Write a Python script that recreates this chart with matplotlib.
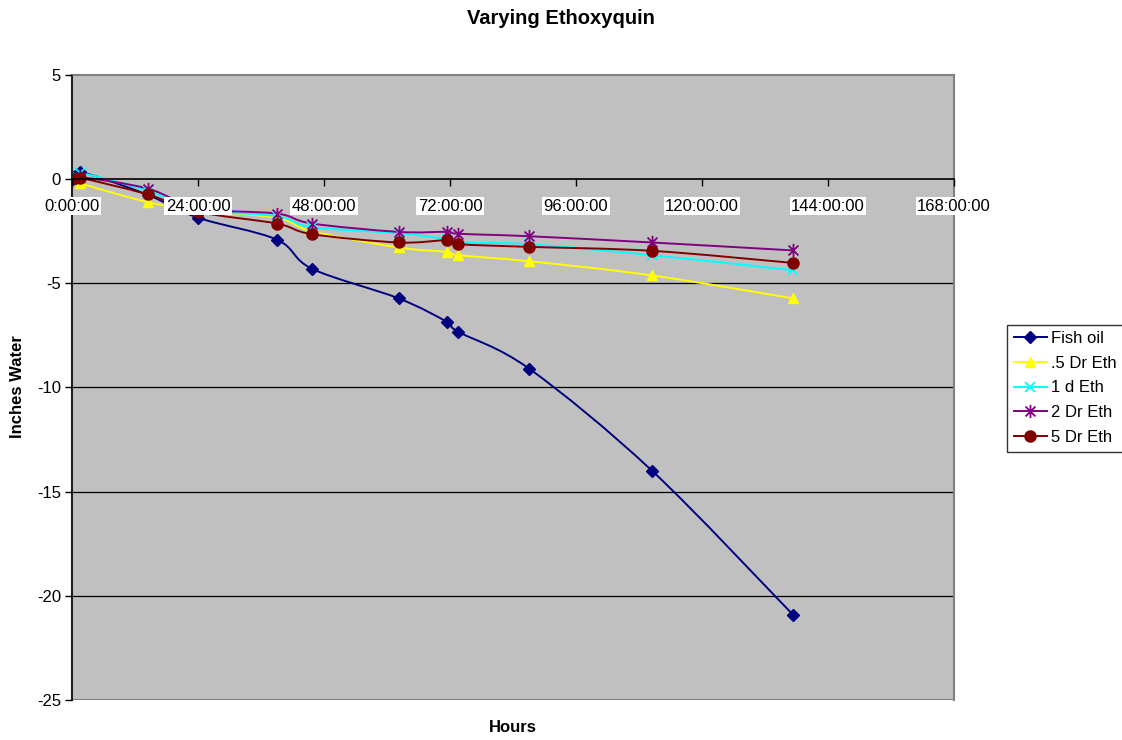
import numpy as np
import matplotlib
matplotlib.use("Agg")
import matplotlib.pyplot as plt
from matplotlib.path import Path
from matplotlib.patches import PathPatch
from matplotlib.lines import Line2D

plt.rcParams['font.family'] = ['Liberation Sans', 'DejaVu Sans']
plt.rcParams['axes.unicode_minus'] = False

# Elapsed time of each reading (hours)
hours = [0, 1.6, 14.4, 24, 39, 45.7, 62.2, 71.4, 73.6, 87.1, 110.5, 137.3]

# Pressure readings (inches of water) per sample
fish_oil = [0, 0.35, -0.75, -1.85, -2.9, -4.3, -5.72, -6.85, -7.33, -9.1, -14.0, -20.9]
dr_eth_05 = [0, -0.2, -1.1, -1.5, -1.85, -2.5, -3.28, -3.49, -3.65, -3.94, -4.62, -5.72]
d_eth_1 = [0, 0.3, -0.55, -1.45, -1.78, -2.3, -2.6, -2.88, -3.05, -3.12, -3.65, -4.37]
dr_eth_2 = [0, 0.1, -0.45, -1.4, -1.65, -2.13, -2.53, -2.53, -2.62, -2.74, -3.04, -3.42]
dr_eth_5 = [0, 0.06, -0.73, -1.57, -2.13, -2.64, -3.04, -2.93, -3.12, -3.25, -3.44, -4.02]

series_names = ["Fish oil", ".5 Dr Eth", "1 d Eth", "2 Dr Eth", "5 Dr Eth"]
series_values = [fish_oil, dr_eth_05, d_eth_1, dr_eth_2, dr_eth_5]

x_ticks = [0, 24, 48, 72, 96, 120, 144, 168]
x_tick_labels = ["0:00:00", "24:00:00", "48:00:00", "72:00:00", "96:00:00",
                 "120:00:00", "144:00:00", "168:00:00"]
y_ticks = [-25, -20, -15, -10, -5, 0, 5]

# Asterisk marker: an "x" crossed by a vertical stroke
asterisk = Path(
    [(0, -1), (0, 1), (-0.75, -0.75), (0.75, 0.75), (-0.75, 0.75), (0.75, -0.75)],
    [Path.MOVETO, Path.LINETO, Path.MOVETO, Path.LINETO, Path.MOVETO, Path.LINETO])

styles = [
    dict(color="#000080", marker="D", ms=6, mfc="#000080", mec="#000080", mew=1),
    dict(color="#FFFF00", marker="^", ms=7.5, mfc="#FFFF00", mec="#FFFF00", mew=1),
    dict(color="#00FFFF", marker="x", ms=7, mfc="none", mec="#00FFFF", mew=1.3),
    dict(color="#800080", marker=asterisk, ms=9.5, mfc="none", mec="#800080", mew=1.3),
    dict(color="#800000", marker="o", ms=8, mfc="#800000", mec="#800000", mew=1),
]


def smooth_path(x, y):
    """Cubic Bezier path through the points (Catmull-Rom style smoothing)."""
    pts = np.column_stack([x, y]).astype(float)
    n = len(pts)
    verts = [pts[0]]
    codes = [Path.MOVETO]
    for i in range(n - 1):
        p0 = pts[max(i - 1, 0)]
        p1 = pts[i]
        p2 = pts[i + 1]
        p3 = pts[min(i + 2, n - 1)]
        c1 = p1 + (p2 - p0) / 6.0
        c2 = p2 - (p3 - p1) / 6.0
        verts += [c1, c2, p2]
        codes += [Path.CURVE4] * 3
    return Path(verts, codes)


fig = plt.figure(figsize=(11.22, 7.40), dpi=100)
ax = fig.add_axes([72 / 1122, 40 / 740, 882 / 1122, 625 / 740])
ax.set_facecolor("#C0C0C0")
ax.set_xlim(0, 168)
ax.set_ylim(-25, 5)

# Horizontal gridlines behind the data
for yv in y_ticks:
    if -25 < yv < 5 and yv != 0:
        ax.axhline(yv, color="black", lw=0.9, zorder=1)
ax.axhline(-25, color="#808080", lw=1.5, zorder=1)

handles = []
for name, vals, st in zip(series_names, series_values, styles):
    patch = PathPatch(smooth_path(hours, vals), facecolor="none",
                      edgecolor=st["color"], lw=1.4, zorder=2)
    ax.add_patch(patch)
    ax.plot(hours, vals, linestyle="none", marker=st["marker"], ms=st["ms"],
            mfc=st["mfc"], mec=st["mec"], mew=st["mew"], zorder=2.1)
    handles.append(Line2D([], [], color=st["color"], lw=1.4, marker=st["marker"],
                          ms=st["ms"], mfc=st["mfc"], mec=st["mec"], mew=st["mew"],
                          label=name))

# Axes frame: x axis crosses at zero
ax.spines["bottom"].set_position(("data", 0))
ax.spines["bottom"].set_color("black")
ax.spines["bottom"].set_linewidth(1.2)
ax.spines["left"].set_color("#202020")
ax.spines["left"].set_linewidth(1.5)
for s in ("top", "right"):
    ax.spines[s].set_color("#808080")
    ax.spines[s].set_linewidth(1.5)
ax.set_axisbelow(False)
for sp in ax.spines.values():
    sp.set_zorder(2.5)

ax.set_xticks(x_ticks)
ax.set_xticklabels(x_tick_labels, fontsize=12)
ax.set_yticks(y_ticks)
ax.set_yticklabels([str(v) for v in y_ticks], fontsize=12)
ax.tick_params(axis="x", direction="out", length=5, width=1, pad=9)
ax.tick_params(axis="y", direction="out", length=5, width=1, pad=3)
for lab in ax.get_xticklabels():
    lab.set_bbox(dict(facecolor="white", edgecolor="none", pad=1.0))
ax.xaxis.set_zorder(3)

fig.text(0.5, 1 - 18 / 740, "Varying Ethoxyquin", ha="center", va="center",
         fontsize=14.5, fontweight="bold")
fig.text(513 / 1122, 1 - 728 / 740, "Hours", ha="center", va="center",
         fontsize=12, fontweight="bold")
fig.text(18 / 1122, 1 - 387 / 740, "Inches Water", ha="center", va="center",
         rotation=90, fontsize=12, fontweight="bold")

leg = fig.legend(handles=handles, loc="center left",
                 bbox_to_anchor=(1007 / 1122, 1 - 388 / 740), fontsize=12,
                 frameon=True, fancybox=False, edgecolor="black",
                 handlelength=2.0, handletextpad=0.25, borderpad=0.4,
                 labelspacing=0.58, borderaxespad=0)
leg.get_frame().set_linewidth(1.0)

fig.savefig("out.png", dpi=100)
